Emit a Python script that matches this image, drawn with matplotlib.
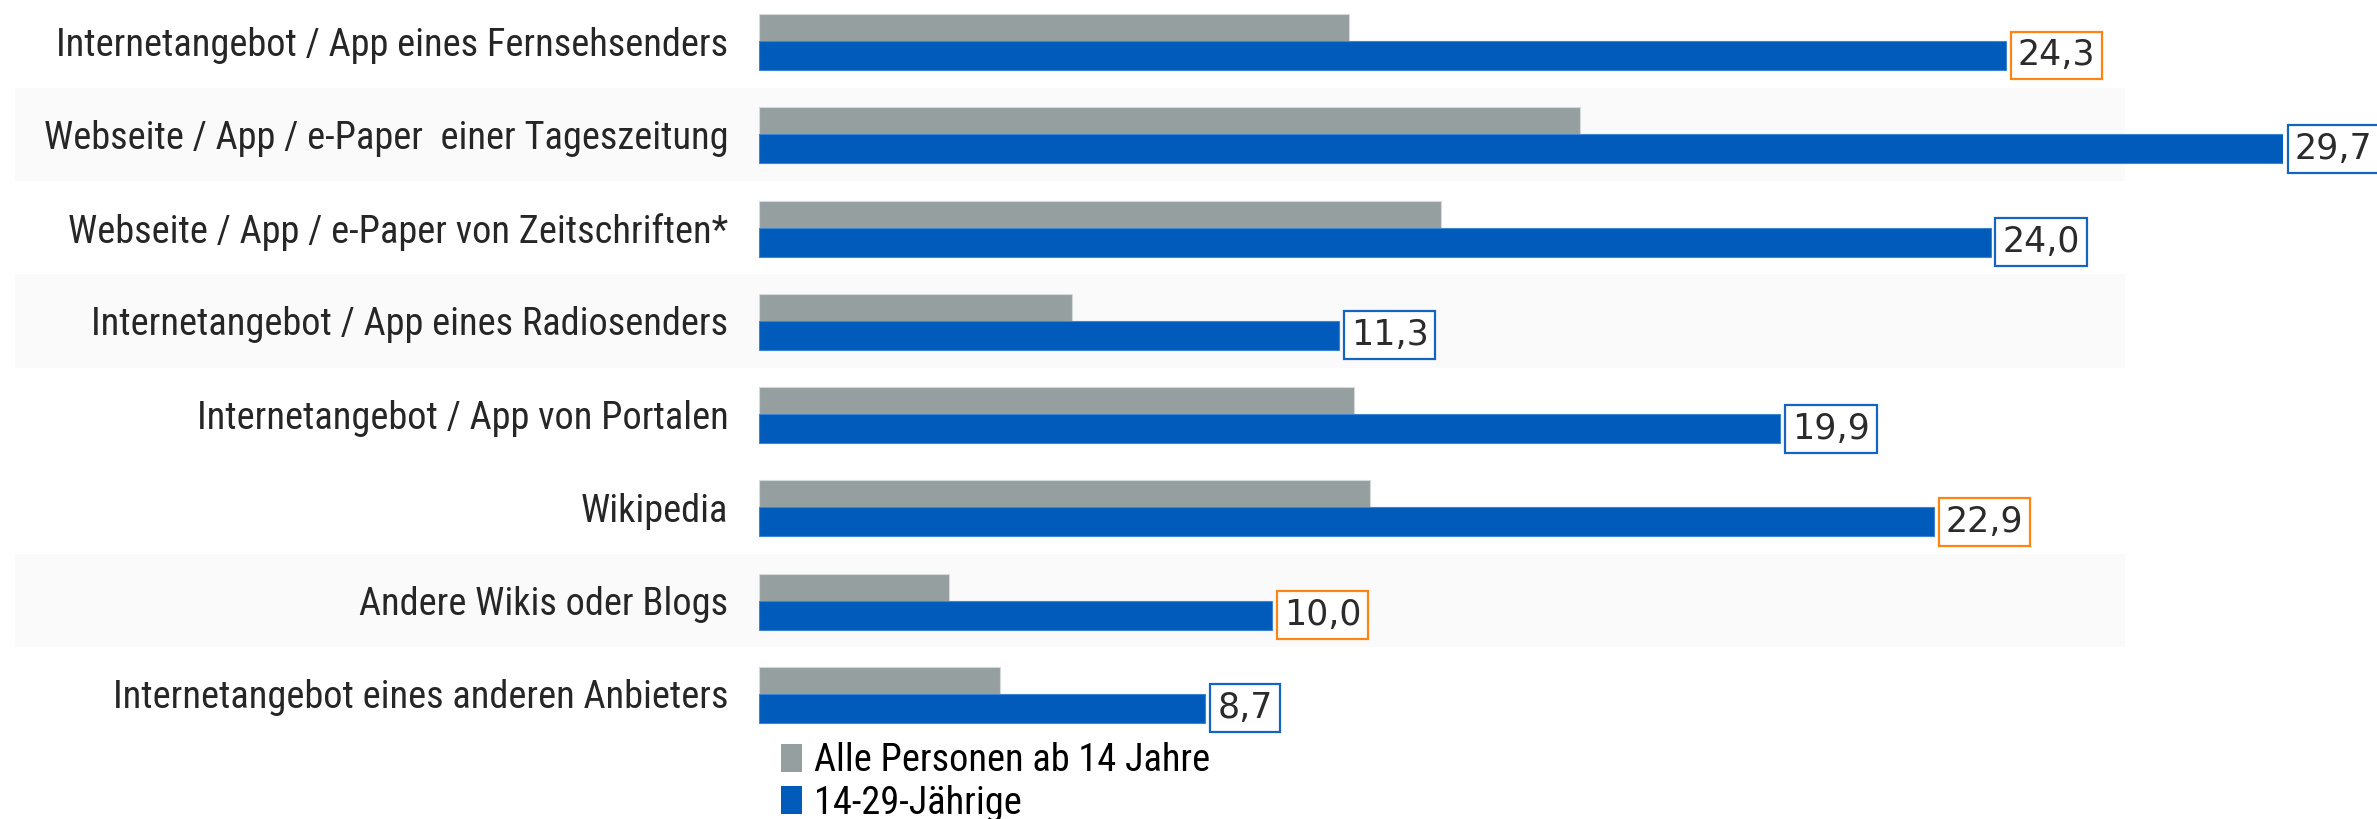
import matplotlib.pyplot as plt
from matplotlib import font_manager
from matplotlib.font_manager import FontProperties
from matplotlib.patches import Rectangle, Patch
from matplotlib.transforms import blended_transform_factory

categories = [
    'Internetangebot / App eines Fernsehsenders',
    'Webseite / App / e-Paper  einer Tageszeitung',
    'Webseite / App / e-Paper von Zeitschriften*',
    'Internetangebot / App eines Radiosenders',
    'Internetangebot / App von Portalen',
    'Wikipedia',
    'Andere Wikis oder Blogs',
    'Internetangebot eines anderen Anbieters',
]
alle = [11.5, 16.0, 13.3, 6.1, 11.6, 11.9, 3.7, 4.7]
jung = [24.3, 29.7, 24.0, 11.3, 19.9, 22.9, 10.0, 8.7]
hervorgehoben = [True, False, False, False, False, True, True, False]
series_names = ['Alle Personen ab 14 Jahre', '14-29-Jährige']
band_rows = [1, 3, 6]

GRAU = '#959f9f'
BLAU = '#005bbb'
ORANGE = '#ff8412'
RAHMEN_BLAU = '#1565c0'


def schmale_schrift():
    # sucht eine schmale (condensed) Schrift, sonst Roboto
    prefs = ['Liberation Sans Narrow', 'Roboto Condensed', 'Open Sans Condensed',
             'DejaVu Sans Condensed', 'Noto Sans Condensed']
    fonts = font_manager.fontManager.ttflist
    for p in prefs:
        for f in fonts:
            if f.name == p and f.style == 'normal' and f.weight in (400, 'normal', 'regular'):
                return FontProperties(fname=f.fname)
    for f in fonts:
        s = str(f.stretch)
        if (('Condensed' in f.fname or 'Narrow' in f.fname or s in ('condensed', 'semi-condensed'))
                and f.style == 'normal' and 'Bold' not in f.fname and 'Mono' not in f.fname
                and 'Serif' not in f.fname and 'Italic' not in f.fname and 'Oblique' not in f.fname):
            return FontProperties(fname=f.fname)
    return FontProperties(family='Roboto')


fig = plt.figure(figsize=(23.77, 8.19), dpi=100)
renderer = fig.canvas.get_renderer()

fp = schmale_schrift()
# Schriftgröße so wählen, dass das längste Label ~680 px breit ist
probe = fig.text(0, 0, categories[1], fontproperties=fp, fontsize=10)
w10 = probe.get_window_extent(renderer).width
probe.remove()
label_size = min(29, 10 * 680 / w10)
fp = fp.copy()
fp.set_size(label_size)

ax = fig.add_axes([759 / 2377, 0.0957, 1524 / 2377, 0.9043])
ax.patch.set_alpha(0)

y = list(range(len(categories)))
ax.barh([i - 0.145 for i in y], alle, height=0.29, color=GRAU,
        edgecolor='#d5d9d9', linewidth=0.8, zorder=3)
ax.barh([i + 0.155 for i in y], jung, height=0.31, color=BLAU,
        edgecolor='#3d85d1', linewidth=0.8, zorder=3)

# hellgraue Hintergrundstreifen
trans = blended_transform_factory(fig.transFigure, ax.transData)
for r in band_rows:
    ax.add_patch(Rectangle((15 / 2377, r - 0.5), 2110 / 2377, 1.0, transform=trans,
                           facecolor='#fafafa', edgecolor='none', zorder=0, clip_on=False))

for i, (v, hl) in enumerate(zip(jung, hervorgehoben)):
    ax.annotate(f'{v:.1f}'.replace('.', ','), xy=(v, i + 0.155), xytext=(8.5, 0),
                textcoords='offset points', ha='left', va='center',
                fontsize=25, color='#2b2b2b', family='DejaVu Sans', zorder=5,
                annotation_clip=False,
                bbox=dict(boxstyle='square,pad=0.2', facecolor='white',
                          edgecolor=ORANGE if hl else RAHMEN_BLAU, linewidth=1.6))

ax.set_xlim(0, max(jung))
ax.set_ylim(len(categories) - 0.5, -0.44)
ax.set_yticks(y)
ax.set_yticklabels(categories, fontproperties=fp, color='#262626')
ax.tick_params(axis='y', length=0, pad=22)
ax.set_xticks([])
for s in ax.spines.values():
    s.set_visible(False)

handles = [Patch(facecolor=GRAU), Patch(facecolor=BLAU)]
fig.legend(handles, series_names, loc='upper left', bbox_to_anchor=(781 / 2377, 1 - 742 / 819),
           frameon=False, prop=fp,
           handlelength=0.55, handleheight=0.75, handletextpad=0.3,
           labelspacing=0.15, borderpad=0, borderaxespad=0)

fig.savefig('out.png', dpi=100)
